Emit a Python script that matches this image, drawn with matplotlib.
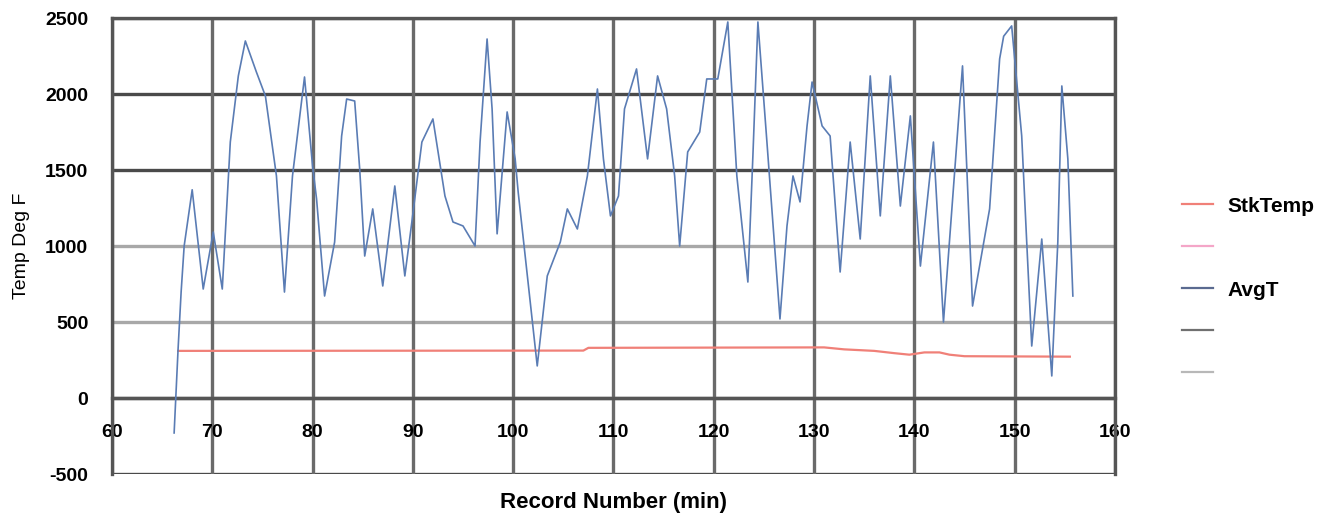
import numpy as np
import matplotlib
matplotlib.use("Agg")
import matplotlib.pyplot as plt
from matplotlib.lines import Line2D

plt.rcParams['font.family'] = ['Liberation Sans', 'DejaVu Sans']
plt.rcParams['axes.unicode_minus'] = False

# AvgT trace (record number, deg F)
avg_x = [66.2, 66.6, 66.9, 67.2, 68.0, 69.1, 70.1, 71.0, 71.8, 72.6,
         73.3, 74.4, 75.3, 76.4, 77.2, 78.0, 79.2, 80.0, 80.4, 81.2,
         82.2, 82.9, 83.4, 84.2, 84.7, 85.2, 86.0, 87.0, 88.2, 89.2,
         89.9, 90.4, 90.9, 92.0, 93.2, 94.0, 95.0, 96.2, 96.7, 97.4,
         97.9, 98.4, 99.4, 100.2, 100.5, 102.4, 103.4, 104.7, 105.4, 106.4,
         107.4, 108.4, 109.0, 109.7, 110.5, 111.1, 112.3, 113.4, 114.4, 115.3,
         116.1, 116.6, 117.4, 118.6, 119.3, 120.4, 121.4, 122.3, 123.4, 123.9,
         124.4, 125.3, 126.6, 127.3, 127.9, 128.6, 129.3, 129.8, 130.8, 131.6,
         132.6, 133.6, 134.6, 135.6, 136.6, 137.6, 138.6, 139.6, 140.6, 141.9,
         142.9, 144.8, 145.8, 147.5, 148.5, 148.9, 149.7, 150.7, 151.2, 151.7,
         152.7, 153.7, 154.3, 154.7, 155.3, 155.8]
avg_y = [-230, 330, 700, 1000, 1370, 717, 1092, 717, 1684, 2119,
         2349, 2145, 1987, 1461, 697, 1461, 2112, 1527, 1310, 671,
         1026, 1724, 1967, 1954, 1507, 934, 1244, 737, 1395, 803,
         1158, 1421, 1684, 1836, 1329, 1158, 1132, 1000, 1684, 2362,
         1902, 1080, 1882, 1573, 1355, 211, 803, 1026, 1244, 1112,
         1461, 2033, 1573, 1198, 1329, 1902, 2165, 1573, 2119, 1902,
         1461, 1000, 1619, 1750, 2099, 2099, 2474, 1461, 763, 1592,
         2474, 1684, 520, 1132, 1461, 1290, 1790, 2079, 1790, 1724,
         829, 1684, 1046, 2119, 1198, 2119, 1263, 1856, 868, 1684,
         500, 2185, 605, 1244, 2231, 2380, 2448, 1724, 1026, 342,
         1046, 145, 1026, 2053, 1573, 671]

# StkTemp trace
stk_x = [66.6, 107.0, 107.5, 131.0, 133.0, 136.0, 138.0, 139.5, 141.0, 142.5, 143.5, 145.0, 155.5]
stk_y = [310, 312, 330, 333, 320, 310, 295, 285, 300, 300, 285, 275, 272]

xticks = [60, 70, 80, 90, 100, 110, 120, 130, 140, 150, 160]
yticks = [-500, 0, 500, 1000, 1500, 2000, 2500]
grid_colors = ['#4a4a4a', '#4a4a4a', '#a8a8a8', '#a8a8a8', '#4a4a4a', '#4a4a4a', '#4a4a4a']

fig = plt.figure(figsize=(13.39, 5.19), dpi=100)
ax = fig.add_axes([0.0836, 0.0867, 0.7491, 0.8786])

for yv, c in zip(yticks, grid_colors):
    ax.axhline(yv, color=c, lw=2.4, zorder=1)
for xv in xticks:
    ax.axvline(xv, color='#6a6a6a', lw=2.4, zorder=1)

ax.plot(stk_x, stk_y, color='#f08078', lw=1.6, zorder=3)
ax.plot(avg_x, avg_y, color='#5a7cb4', lw=1.2, zorder=4)

ax.set_xlim(60, 160)
ax.set_ylim(-500, 2500)
ax.set_xticks(xticks)
ax.set_yticks(yticks)

# x axis crosses at 0 like the original
ax.spines['bottom'].set_position(('data', 0))
for s in ax.spines.values():
    s.set_color('#555555')
    s.set_linewidth(2.4)
ax.tick_params(length=0)
ax.tick_params(axis='x', pad=19, labelsize=14)
ax.tick_params(axis='y', pad=17, labelsize=14)
for lab in ax.get_xticklabels() + ax.get_yticklabels():
    lab.set_fontweight('bold')

ax.set_xlabel('Record Number (min)', fontsize=16, fontweight='bold')
ax.xaxis.set_label_coords(0.5, -0.04)
ax.set_ylabel('Temp Deg F', fontsize=14)
ax.yaxis.set_label_coords(-0.082, 0.5)

handles = [Line2D([], [], color='#f08078', lw=1.6),
           Line2D([], [], color='#f4a6c8', lw=1.6),
           Line2D([], [], color='#5a6a90', lw=1.6),
           Line2D([], [], color='#707070', lw=1.6),
           Line2D([], [], color='#b8b8b8', lw=1.6)]
labels = ['StkTemp', ' ', 'AvgT', ' ', ' ']
leg = fig.legend(handles, labels, loc='upper left', bbox_to_anchor=(0.8827, 0.621),
                 frameon=False, borderpad=0, borderaxespad=0,
                 handlelength=1.5, handletextpad=0.67, labelspacing=1.1,
                 prop={'weight': 'bold', 'size': 15})

fig.savefig('out.png', dpi=100, facecolor='white')
